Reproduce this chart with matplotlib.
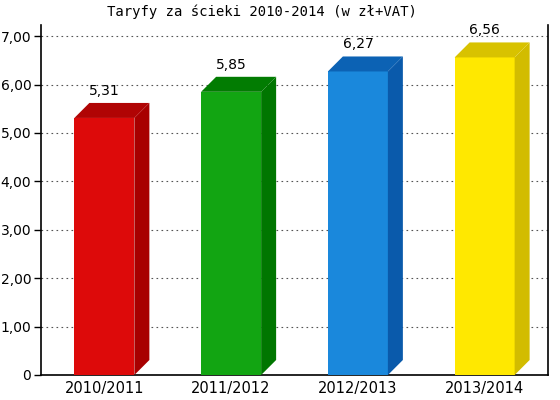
import matplotlib.pyplot as plt
from matplotlib.patches import Polygon

categories = ['2010/2011', '2011/2012', '2012/2013', '2013/2014']
values = [5.31, 5.85, 6.27, 6.56]
value_labels = ['5,31', '5,85', '6,27', '6,56']
ytick_values = [0, 1, 2, 3, 4, 5, 6, 7]
ytick_labels = ['0', '1,00', '2,00', '3,00', '4,00', '5,00', '6,00', '7,00']

front_colors = ['#dd0a0a', '#12a512', '#1a88dc', '#ffe800']
side_colors = ['#a80000', '#007600', '#0a5aab', '#d2bc00']
top_colors = ['#b00404', '#027c02', '#0c62b4', '#d8c200']

W, H = 560, 400
fig = plt.figure(figsize=(W / 100, H / 100), dpi=100)
ax_l, ax_r, ax_b, ax_t = 41, 548, 375, 25
ax = fig.add_axes([ax_l / W, 1 - ax_b / H, (ax_r - ax_l) / W, (ax_b - ax_t) / H])

xmin, xmax = -0.5, 3.5
ymax = 7.23
ax.set_xlim(xmin, xmax)
ax.set_ylim(0, ymax)

# depth of the 3D effect, 15 px in both directions
px_x = (ax_r - ax_l) / (xmax - xmin)
px_y = (ax_b - ax_t) / ymax
dx = 15 / px_x
dy = 15 / px_y
width = 60 / px_x

x = range(len(categories))
ax.bar(x, values, width=width, color=front_colors, zorder=3)
for i, v in enumerate(values):
    l, r = i - width / 2, i + width / 2
    side = Polygon([(r, 0), (r + dx, dy), (r + dx, v + dy), (r, v)],
                   closed=True, facecolor=side_colors[i], edgecolor='none', zorder=3)
    top = Polygon([(l, v), (l + dx, v + dy), (r + dx, v + dy), (r, v)],
                  closed=True, facecolor=top_colors[i], edgecolor='none', zorder=3)
    ax.add_patch(side)
    ax.add_patch(top)
    ax.text(i, v + dy + 5 / px_y, value_labels[i], ha='center', va='bottom',
            fontsize=10, family='DejaVu Sans', zorder=4)

ax.set_yticks(ytick_values)
ax.set_yticklabels(ytick_labels, fontsize=10)
ax.set_xticks(list(x))
ax.set_xticklabels(categories, fontsize=10.5)
ax.tick_params(axis='x', length=0, pad=4)
ax.tick_params(axis='y', length=5, width=1, pad=2)
ax.yaxis.grid(True, linestyle=(0, (1.5, 3)), color='#555555', linewidth=0.8, zorder=0)
ax.set_axisbelow(True)
ax.spines['top'].set_visible(False)
for s in ['left', 'right', 'bottom']:
    ax.spines[s].set_linewidth(1.2)

fig.text(262 / W, 1 - 12 / H, 'Taryfy za ścieki 2010-2014 (w zł+VAT)',
         ha='center', va='center', family='DejaVu Sans Mono', fontsize=10)

fig.savefig('out.png', dpi=100)
